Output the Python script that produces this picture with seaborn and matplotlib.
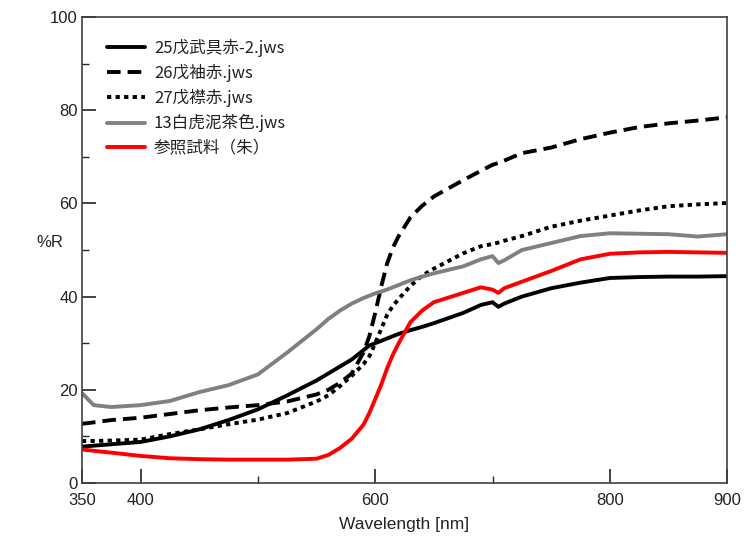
import numpy as np
import pandas as pd
import matplotlib
matplotlib.use("Agg")
import matplotlib.pyplot as plt
import seaborn as sns
from matplotlib.ticker import MultipleLocator, FixedLocator

wavelength = [350, 360, 375, 400, 425, 450, 475, 500, 525, 550, 560, 570, 580, 590, 595,
              600, 605, 610, 615, 620, 630, 640, 650, 675, 690, 700, 705, 710, 725, 750,
              775, 800, 825, 850, 875, 900]

s25 = [7.8, 8.0, 8.3, 8.8, 10.0, 11.5, 13.5, 15.8, 18.8, 22.0, 23.5, 25.0, 26.5, 28.5, 29.5,
       30.0, 30.5, 31.0, 31.5, 32.0, 32.8, 33.5, 34.3, 36.5, 38.2, 38.8, 37.8, 38.5, 40.0, 41.8,
       43.0, 44.0, 44.2, 44.3, 44.3, 44.4]
s26 = [12.7, 13.0, 13.5, 14.0, 14.8, 15.6, 16.2, 16.7, 17.5, 19.0, 20.0, 21.5, 23.5, 28.0, 31.5,
       36.5, 42.0, 47.0, 50.5, 53.0, 57.0, 59.5, 61.5, 65.0, 67.0, 68.3, 68.7, 69.2, 70.8, 72.0,
       73.8, 75.2, 76.4, 77.2, 77.8, 78.5]
s27 = [9.0, 9.0, 9.1, 9.3, 10.5, 11.5, 12.6, 13.6, 15.0, 17.5, 18.8, 20.8, 23.0, 25.5, 27.2,
       30.0, 33.0, 36.0, 38.0, 39.5, 42.3, 44.5, 46.0, 49.3, 50.8, 51.3, 51.6, 52.0, 53.0, 55.0,
       56.3, 57.4, 58.5, 59.4, 59.8, 60.1]
s13 = [19.3, 16.7, 16.3, 16.7, 17.6, 19.5, 21.0, 23.3, 28.0, 33.0, 35.2, 37.0, 38.5, 39.7, 40.2,
       40.7, 41.1, 41.5, 42.0, 42.5, 43.5, 44.3, 45.0, 46.5, 48.0, 48.7, 47.2, 47.8, 50.0, 51.5,
       53.0, 53.6, 53.5, 53.4, 52.9, 53.4]
sref = [7.2, 6.9, 6.5, 5.8, 5.3, 5.1, 5.0, 5.0, 5.0, 5.2, 6.0, 7.5, 9.5, 12.5, 15.0,
        18.0, 21.0, 24.5, 27.5, 30.0, 34.5, 37.0, 38.8, 40.8, 42.0, 41.5, 40.8, 41.8, 43.2, 45.5,
        48.0, 49.2, 49.5, 49.6, 49.5, 49.4]

labels = ["25戊武具赤-2.jws", "26戊袖赤.jws", "27戊襟赤.jws", "13白虎泥茶色.jws", "参照試料（朱）"]
series = [s25, s26, s27, s13, sref]
colors = ["#000000", "#000000", "#000000", "#808080", "#ff0000"]
dashes = ["", (3.5, 1.8), (1.1, 1.1), "", ""]

xticks = [350, 400, 600, 800, 900]
yticks = [0, 20, 40, 60, 80, 100]

rows = []
for lab, vals in zip(labels, series):
    for w, v in zip(wavelength, vals):
        rows.append({"Wavelength": w, "R": v, "Sample": lab})
df = pd.DataFrame(rows)

sns.set_theme(style="white")
plt.rcParams["font.family"] = ["Liberation Sans", "Noto Sans CJK JP", "DejaVu Sans"]

fig = plt.figure(figsize=(7.45, 5.36), dpi=100)
ax = fig.add_axes([0.110, 0.099, 0.866, 0.869])

sns.lineplot(data=df, x="Wavelength", y="R", hue="Sample", style="Sample",
             palette=dict(zip(labels, colors)), dashes=dict(zip(labels, dashes)),
             hue_order=labels, style_order=labels, linewidth=2.8, ax=ax, legend=False)

ax.set_xlim(350, 900)
ax.set_ylim(0, 100)
ax.xaxis.set_major_locator(FixedLocator(xticks))
ax.xaxis.set_minor_locator(FixedLocator([500, 700]))
ax.yaxis.set_major_locator(FixedLocator(yticks))
ax.yaxis.set_minor_locator(MultipleLocator(10))
ax.tick_params(axis="both", which="major", direction="in", length=10, width=1.2,
               labelsize=12, colors="#222222", bottom=True, left=True, top=False, right=False)
ax.tick_params(axis="both", which="minor", direction="in", length=5, width=1.0,
               bottom=True, left=True, top=False, right=False)
ax.tick_params(axis="x", pad=7)
ax.tick_params(axis="y", pad=3)
for sp in ax.spines.values():
    sp.set_color("#404040")
    sp.set_linewidth(1.2)

ax.set_xlabel("Wavelength [nm]", fontsize=12.5, color="#222222", labelpad=7)
ax.set_ylabel("%R", fontsize=12, color="#222222", rotation=0, labelpad=0)
ax.yaxis.set_label_coords(-0.05, 0.50)

handles = ax.get_lines()[:5]
leg = ax.legend(handles, labels, loc="upper left", bbox_to_anchor=(0.016, 0.985),
                frameon=False, handlelength=2.25, handletextpad=0.55, labelspacing=0.42,
                prop={"family": ["Noto Sans CJK JP", "DejaVu Sans"], "size": 12})
for t in leg.get_texts():
    t.set_color("#222222")

fig.savefig("out.png", dpi=100)
